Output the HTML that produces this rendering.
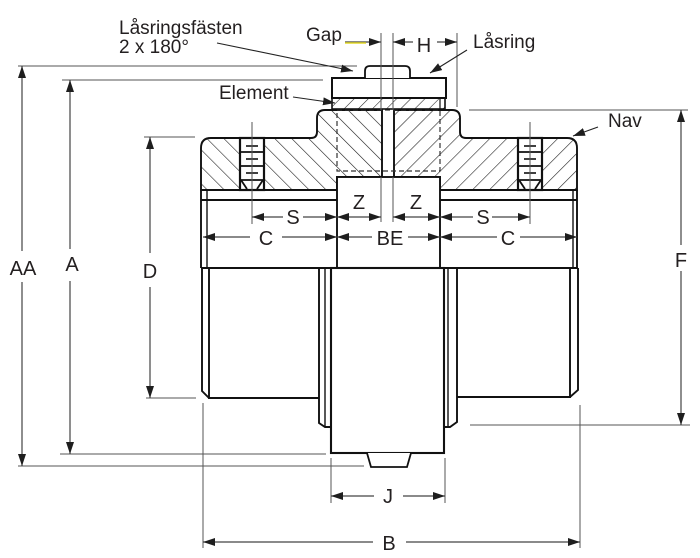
<!DOCTYPE html>
<html><head><meta charset="utf-8"><style>
html,body{margin:0;padding:0;background:#fff;}
svg{display:block;}
text{font-family:"Liberation Sans",Arial,sans-serif;fill:#231f20;}
</style></head><body>
<svg width="700" height="558" viewBox="0 0 700 558" xmlns="http://www.w3.org/2000/svg">
<defs>
<pattern id="hL" patternUnits="userSpaceOnUse" width="12" height="12" patternTransform="rotate(-45)">
<rect width="12" height="12" fill="#fff"/><line x1="0" y1="0" x2="0" y2="12" stroke="#222" stroke-width="1.2"/></pattern>
<pattern id="hR" patternUnits="userSpaceOnUse" width="12" height="12" patternTransform="rotate(45)">
<rect width="12" height="12" fill="#fff"/><line x1="0" y1="0" x2="0" y2="12" stroke="#222" stroke-width="1.2"/></pattern>
<pattern id="hE" patternUnits="userSpaceOnUse" width="10" height="10" patternTransform="rotate(45)">
<rect width="10" height="10" fill="#fff"/><line x1="0" y1="0" x2="0" y2="10" stroke="#222" stroke-width="1.1"/></pattern>
<marker id="ar" viewBox="0 0 12 8" markerWidth="12" markerHeight="8" refX="12" refY="4" orient="auto" markerUnits="userSpaceOnUse">
<path d="M0,0 L12,4 L0,8 Z" fill="#1e1e1e"/></marker>
</defs>

<!-- ===== hubs cross-section (hatched) ===== -->
<path d="M201,148 Q201,138 211,138 L311,138 Q317,138 317,132 L317,118 Q317,110 325,110 L382,110 L382,177 L337,177 L337,190 L201,190 Z" fill="url(#hL)" stroke="#111" stroke-width="1.9"/>
<path d="M394,110 L452,110 Q460,110 460,118 L460,132 Q460,138 466,138 L567,138 Q577,138 577,148 L577,190 L440,190 L440,177 L394,177 Z" fill="url(#hR)" stroke="#111" stroke-width="1.9"/>

<!-- dashed element outline -->
<rect x="337" y="110" width="103" height="61" fill="none" stroke="#333" stroke-width="1.2" stroke-dasharray="5,3"/>

<!-- element strip & lock ring -->
<rect x="332" y="98" width="113" height="11" fill="url(#hE)" stroke="#111" stroke-width="1.6"/>
<line x1="440" y1="98" x2="440" y2="109" stroke="#111" stroke-width="1.2"/>
<rect x="332" y="78" width="114" height="20" fill="#fff" stroke="#111" stroke-width="2"/>
<!-- top bolt head -->
<path d="M365,78 L365,71 Q365,66 370,66 L405,66 Q410,66 410,71 L410,78" fill="#fff" stroke="#111" stroke-width="1.8"/>

<!-- set screws -->
<g stroke="#111" fill="none">
<rect x="240" y="138" width="24" height="52" fill="#fff" stroke-width="2.2"/>
<line x1="240" y1="152" x2="264" y2="152" stroke-width="1.8"/>
<line x1="240" y1="166" x2="264" y2="166" stroke-width="1.8"/>
<line x1="240" y1="180" x2="264" y2="180" stroke-width="1.8"/>
<line x1="246" y1="146" x2="258" y2="146" stroke-width="1.6"/>
<line x1="246" y1="159" x2="258" y2="159" stroke-width="1.6"/>
<line x1="246" y1="173" x2="258" y2="173" stroke-width="1.6"/>
<path d="M241,180 L247,189 M263,180 L257,189" stroke-width="1.8"/>
<rect x="518" y="138" width="24" height="52" fill="#fff" stroke-width="2.2"/>
<line x1="518" y1="152" x2="542" y2="152" stroke-width="1.8"/>
<line x1="518" y1="166" x2="542" y2="166" stroke-width="1.8"/>
<line x1="518" y1="180" x2="542" y2="180" stroke-width="1.8"/>
<line x1="524" y1="146" x2="536" y2="146" stroke-width="1.6"/>
<line x1="524" y1="159" x2="536" y2="159" stroke-width="1.6"/>
<line x1="524" y1="173" x2="536" y2="173" stroke-width="1.6"/>
<path d="M519,180 L525,189 M541,180 L535,189" stroke-width="1.8"/>
</g>

<!-- ===== upper bore zone ===== -->
<g stroke="#111" stroke-width="1.9" fill="none">
<line x1="201" y1="190" x2="201" y2="268"/>
<line x1="207" y1="190" x2="207" y2="268" stroke-width="1.4"/>
<line x1="201" y1="200" x2="337" y2="200"/>
<line x1="440" y1="200" x2="577" y2="200"/>
<line x1="573" y1="190" x2="573" y2="268" stroke-width="1.4"/>
<line x1="577" y1="190" x2="577" y2="268"/>
<rect x="337" y="177" width="103" height="91" fill="#fff"/>
<line x1="201" y1="268" x2="578" y2="268"/>
</g>

<!-- ===== lower zone ===== -->
<g stroke="#111" stroke-width="1.9" fill="none">
<path d="M202,268 L202,391 L209,398"/>
<path d="M209,268 L209,398 L319,398"/>
<path d="M319,268 L319,423 L325,427 L331,427"/>
<line x1="325" y1="268" x2="325" y2="427" stroke-width="1.4"/>
<path d="M578,268 L578,390 L570,397"/>
<path d="M570,268 L570,397 L457,397"/>
<path d="M457,268 L457,422 L450,427 L444,427"/>
<line x1="448" y1="268" x2="448" y2="427" stroke-width="1.4"/>
<rect x="331" y="268" width="113" height="185" fill="#fff" stroke-width="2.1"/>
<path d="M367,453 L371,467 L407,467 L411,453" fill="#fff" stroke-width="1.8"/>
</g>

<!-- ===== thin extension / centre lines ===== -->
<g stroke="#555" stroke-width="1" fill="none">
<line x1="381" y1="33" x2="381" y2="110"/>
<line x1="393" y1="33" x2="393" y2="110"/>
<line x1="381" y1="177" x2="381" y2="222"/>
<line x1="393" y1="177" x2="393" y2="222"/>
<line x1="457" y1="33" x2="457" y2="107"/>
<line x1="252" y1="122" x2="252" y2="224"/>
<line x1="530" y1="122" x2="530" y2="224"/>
<line x1="18" y1="66" x2="357" y2="66"/>
<line x1="62" y1="80" x2="323" y2="80"/>
<line x1="144" y1="137" x2="195" y2="137"/>
<line x1="146" y1="398" x2="196" y2="398"/>
<line x1="60" y1="454" x2="326" y2="454"/>
<line x1="18" y1="466" x2="364" y2="466"/>
<line x1="469" y1="110" x2="688" y2="110"/>
<line x1="470" y1="425" x2="690" y2="425"/>
<line x1="203" y1="403" x2="203" y2="548"/>
<line x1="580" y1="405" x2="580" y2="548"/>
<line x1="331" y1="458" x2="331" y2="503"/>
<line x1="445" y1="458" x2="445" y2="503"/>
</g>

<!-- ===== dimension arrows ===== -->
<g stroke="#444" stroke-width="1.2" fill="none" marker-end="url(#ar)">
<line x1="22" y1="251" x2="22" y2="66"/>
<line x1="22" y1="282" x2="22" y2="466"/>
<line x1="70" y1="249" x2="70" y2="80"/>
<line x1="70" y1="281" x2="70" y2="454"/>
<line x1="150" y1="253" x2="150" y2="137"/>
<line x1="150" y1="287" x2="150" y2="398"/>
<line x1="681" y1="245" x2="681" y2="110"/>
<line x1="681" y1="271" x2="681" y2="425"/>
<line x1="373" y1="542" x2="203" y2="542"/>
<line x1="406" y1="542" x2="580" y2="542"/>
<line x1="374" y1="496" x2="331" y2="496"/>
<line x1="403" y1="496" x2="445" y2="496"/>
<line x1="413" y1="42" x2="393" y2="42"/>
<line x1="437" y1="42" x2="457" y2="42"/>
<line x1="345" y1="42" x2="381" y2="42"/>
<line x1="283" y1="217" x2="252" y2="217"/>
<line x1="303" y1="217" x2="337" y2="217"/>
<line x1="359" y1="217" x2="337" y2="217"/>
<line x1="359" y1="217" x2="381" y2="217"/>
<line x1="416" y1="217" x2="393" y2="217"/>
<line x1="416" y1="217" x2="440" y2="217"/>
<line x1="473" y1="217" x2="440" y2="217"/>
<line x1="492" y1="217" x2="530" y2="217"/>
<line x1="250" y1="237" x2="203" y2="237"/>
<line x1="282" y1="237" x2="337" y2="237"/>
<line x1="372" y1="237" x2="337" y2="237"/>
<line x1="408" y1="237" x2="440" y2="237"/>
<line x1="497" y1="237" x2="440" y2="237"/>
<line x1="520" y1="237" x2="577" y2="237"/>
</g>
<line x1="345" y1="43" x2="366" y2="43" stroke="#e6dc2a" stroke-width="1.6"/>

<!-- leaders -->
<g stroke="#222" stroke-width="1.1" fill="none" marker-end="url(#ar)">
<line x1="217" y1="43" x2="353" y2="71"/>
<line x1="467" y1="50" x2="430" y2="73"/>
<line x1="293" y1="97" x2="335" y2="103"/>
<line x1="598" y1="127" x2="573" y2="136"/>
</g>

<!-- ===== labels ===== -->
<g font-size="19">
<text x="119" y="34">Låsringsfästen</text>
<text x="119" y="53">2 x 180°</text>
<text x="306" y="41">Gap</text>
<text x="473" y="48">Låsring</text>
<text x="219" y="99">Element</text>
<text x="608" y="127">Nav</text>
</g>
<g font-size="20" text-anchor="middle">
<text x="23" y="275">AA</text>
<text x="72" y="271">A</text>
<text x="150" y="278">D</text>
<text x="681" y="267">F</text>
<text x="424" y="52">H</text>
<text x="293" y="224">S</text>
<text x="483" y="224">S</text>
<text x="359" y="209">Z</text>
<text x="416" y="209">Z</text>
<text x="266" y="245">C</text>
<text x="390" y="245">BE</text>
<text x="508" y="245">C</text>
<text x="388" y="503">J</text>
<text x="389" y="550">B</text>
</g>
</svg>
</body></html>
